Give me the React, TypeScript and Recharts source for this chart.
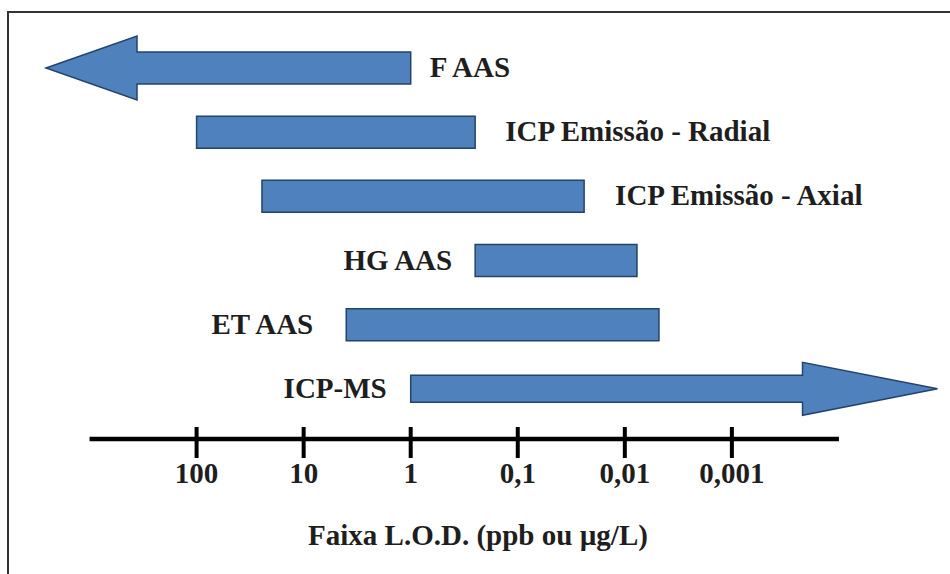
import { ComposedChart, Bar, XAxis, YAxis, ReferenceLine, LabelList } from 'recharts';

// técnicas e faixas de LOD (ppb)
const techniques = ['F AAS', 'ICP Emissão - Radial', 'ICP Emissão - Axial', 'HG AAS', 'ET AAS', 'ICP-MS'];
const lodUpper = [2550, 100, 24.5, 0.25, 4, 1];
const lodLower = [1, 0.25, 0.024, 0.0077, 0.0048, 0.000012];
const arrows = ['left', null, null, null, null, 'right'];
const labelSide = ['right', 'right', 'right', 'left', 'left', 'left'];

const tickValues = [100, 10, 1, 0.1, 0.01, 0.001];
const tickLabels = ['100', '10', '1', '0,1', '0,01', '0,001'];
const axisEnds = [1000, 0.0001];

const axisTitle = 'Faixa L.O.D. (ppb ou µg/L)';

// escala log invertida: x = -log10(ppb)
const toX = (v: number) => -Math.log10(v);

const data = techniques.map((name, i) => ({
  name,
  range: [toX(lodUpper[i]), toX(lodLower[i])],
  arrow: arrows[i],
  side: labelSide[i],
}));

const FONT = "'Liberation Serif', 'Times New Roman', serif";
const TEXT = '#1e1e1e';
const labelGap = [19, 30, 31, 23, 33, 24];

function RangeShape(props: any) {
  const { x, y, width, height, payload, fill, stroke, strokeWidth } = props;
  const cy = y + height / 2;
  let d = '';
  if (payload.arrow === 'left') {
    const head = 91, hh = 32, bh = height / 2;
    const xb = x + head;
    d = `M${x},${cy} L${xb},${cy - hh} L${xb},${cy - bh} L${x + width},${cy - bh} L${x + width},${cy + bh} L${xb},${cy + bh} L${xb},${cy + hh} Z`;
  } else if (payload.arrow === 'right') {
    const head = 135, hh = 26.5, bh = 13.5;
    const xe = x + width;
    const xb = xe - head;
    d = `M${x},${cy - bh} L${xb},${cy - bh} L${xb},${cy - hh} L${xe},${cy} L${xb},${cy + hh} L${xb},${cy + bh} L${x},${cy + bh} Z`;
  } else {
    d = `M${x},${y} H${x + width} V${y + height} H${x} Z`;
  }
  return <path d={d} fill={fill} stroke={stroke} strokeWidth={strokeWidth} strokeLinejoin="miter" />;
}

function TechLabel(props: any) {
  const vb = props.viewBox ?? props;
  const { x, y, width, height } = vb;
  const i = props.index;
  const side = labelSide[i];
  const cy = y + height / 2 - 1;
  const tx = side === 'right' ? x + width + labelGap[i] : x - labelGap[i];
  return (
    <text
      x={tx}
      y={cy + 10}
      textAnchor={side === 'right' ? 'start' : 'end'}
      fontFamily={FONT}
      fontWeight="bold"
      fontSize={29}
      fill={TEXT}
    >
      {props.value}
    </text>
  );
}

function LodTick(props: any) {
  const { x, y, index } = props;
  return (
    <g>
      <line x1={x} x2={x} y1={y - 12} y2={y + 19} stroke="#000" strokeWidth={4} />
      <text x={x} y={y + 44} textAnchor="middle" fontFamily={FONT} fontWeight="bold" fontSize={29} fill={TEXT}>
        {tickLabels[index]}
      </text>
    </g>
  );
}

function AxisTitle(props: any) {
  const { x, y, width } = props.viewBox;
  return (
    <text
      x={x + width / 2 - 13}
      y={y + 106}
      textAnchor="middle"
      fontFamily={FONT}
      fontWeight="bold"
      fontSize={29}
      fill={TEXT}
    >
      {axisTitle}
    </text>
  );
}

export default function App() {
  // eixo auxiliar oculto: no layout vertical ele vai de 0 (topo) até o último índice (base da área)
  const baseY = data.length - 1;
  return (
    <div style={{ position: 'relative', width: 950, height: 574, background: '#fff', overflow: 'hidden' }}>
      <style>{'body{margin:0}'}</style>
      <ComposedChart
        layout="vertical"
        width={950}
        height={574}
        data={data}
        margin={{ top: 36, right: 4, bottom: 35, left: 36 }}
      >
        <XAxis
          type="number"
          domain={[-3.5, 5]}
          ticks={tickValues.map(toX)}
          interval={0}
          axisLine={false}
          tickLine={false}
          tickSize={0}
          tickMargin={0}
          height={100}
          tick={<LodTick />}
          label={<AxisTitle />}
        />
        <YAxis type="category" dataKey="name" hide padding={{ top: 0, bottom: 18 }} />
        <YAxis yAxisId="base" type="number" hide />
        <ReferenceLine
          yAxisId="base"
          segment={[
            { x: toX(axisEnds[0]), y: baseY },
            { x: toX(axisEnds[1]), y: baseY },
          ]}
          stroke="#000"
          strokeWidth={4.5}
        />
        <Bar
          dataKey="range"
          barSize={32}
          fill="#4F81BD"
          stroke="#24436b"
          strokeWidth={1.5}
          shape={<RangeShape />}
          isAnimationActive={false}
        >
          <LabelList dataKey="name" content={<TechLabel />} />
        </Bar>
      </ComposedChart>
      {/* moldura da figura (topo e esquerda) */}
      <div style={{ position: 'absolute', left: 8, top: 11, width: 942, height: 2, background: '#333', zIndex: 2 }} />
      <div style={{ position: 'absolute', left: 7, top: 11, width: 2, height: 563, background: '#333', zIndex: 2 }} />
    </div>
  );
}
